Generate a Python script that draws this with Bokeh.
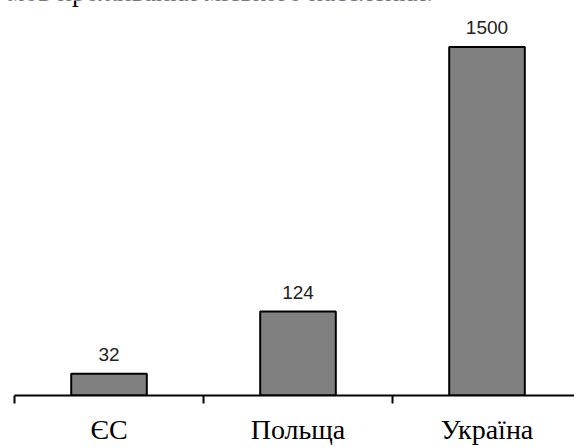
from bokeh.plotting import figure
from bokeh.models import Range1d, FixedTicker, Label, ColumnDataSource
from bokeh.embed import file_html
from bokeh.resources import INLINE
from bokeh.core.properties import value

categories = ["ЄС", "Польща", "Україна"]
label_values = [32, 124, 1500]
# bar heights as drawn in the picture (the picture is not to scale for the last bar)
bar_heights = [32, 124, 515]
caption = "мов проживання міського населення."

W, H = 574, 447
LEFT, BOTTOM = 14, 50
CAT_PX = 189.0
PX_PER_UNIT = 0.68
frame_h = H - BOTTOM

xs = [i + 0.5 for i in range(len(categories))]
src = ColumnDataSource(dict(x=xs, top=bar_heights, lab=[str(v) for v in label_values]))

p = figure(width=W, height=H, output_backend="svg", toolbar_location=None,
           x_range=Range1d(-LEFT / CAT_PX, (W - LEFT) / CAT_PX),
           y_range=Range1d(0, frame_h / PX_PER_UNIT),
           min_border_left=0, min_border_right=0, min_border_top=0, min_border_bottom=BOTTOM)
p.outline_line_color = None
p.xgrid.visible = False
p.ygrid.visible = False
p.yaxis.visible = False

p.vbar(x="x", top="top", width=0.4, bottom=0, source=src,
       fill_color="#808080", line_color="black", line_width=2)

p.text(x="x", y="top", text="lab", source=src, text_align="center",
       text_baseline="bottom", y_offset=-13,
       text_font=value("Liberation Sans"), text_font_size="19px", text_color="#222222")

ax = p.xaxis[0]
ax.bounds = (0, (W - LEFT) / CAT_PX)
ax.ticker = FixedTicker(ticks=xs, minor_ticks=list(range(len(categories) + 1)))
ax.major_label_overrides = {x: c for x, c in zip(xs, categories)}
ax.major_tick_out = 0
ax.major_tick_in = 0
ax.minor_tick_out = 8
ax.minor_tick_in = 0
ax.minor_tick_line_width = 2
ax.minor_tick_line_color = "black"
ax.axis_line_width = 2
ax.axis_line_color = "black"
ax.major_label_standoff = 10
ax.major_label_text_line_height = 1.0
ax.major_label_text_font = "Liberation Serif"
ax.major_label_text_font_size = "28px"
ax.major_label_text_color = "black"

p.add_layout(Label(x=-7 / CAT_PX, y=(frame_h + 9) / PX_PER_UNIT, text=caption,
                   text_font="Liberation Serif", text_font_size="27px",
                   text_baseline="alphabetic", text_color="black"))

open("out.html", "w").write(file_html(p, INLINE))
